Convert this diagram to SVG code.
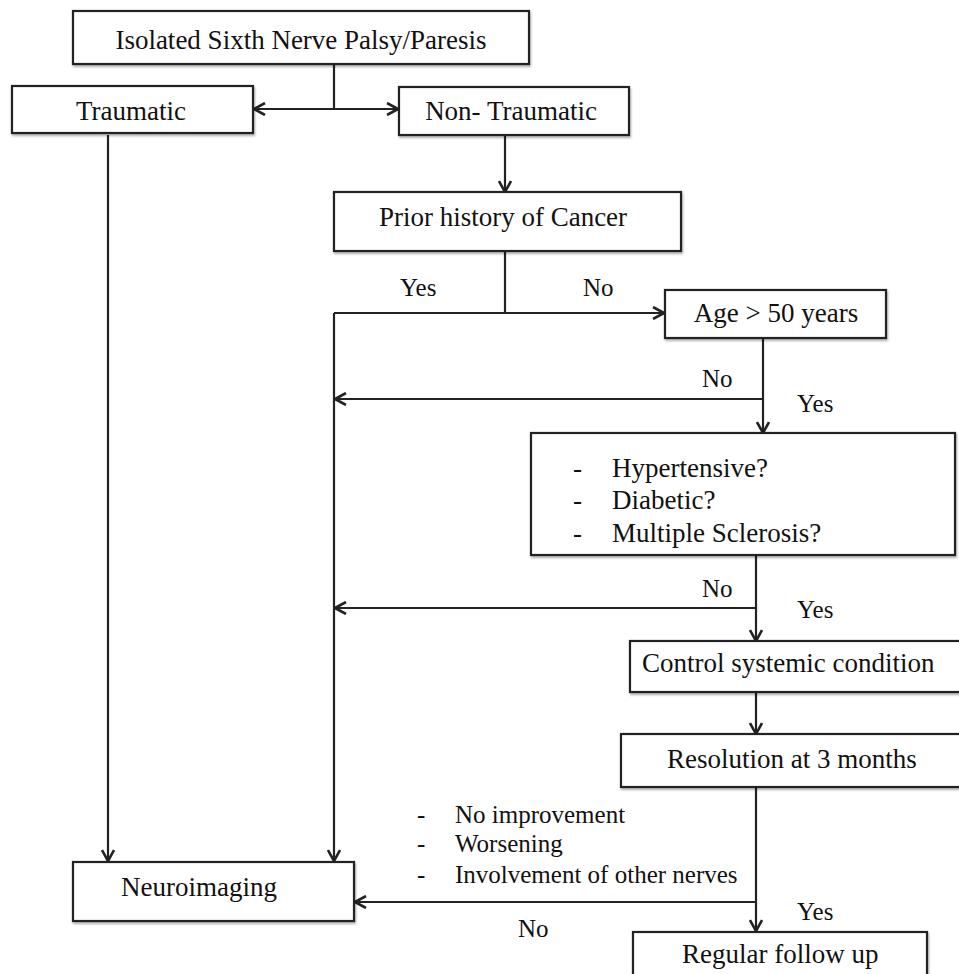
<svg xmlns="http://www.w3.org/2000/svg" width="959" height="974" viewBox="0 0 959 974">
<style>
  .box{fill:#fff;stroke:#222;stroke-width:2.2;filter:url(#sh)}
  .t{font-family:"Liberation Serif","Times New Roman",serif;font-size:27px;fill:#111}
  .m{text-anchor:middle}
  .lbl{font-family:"Liberation Serif","Times New Roman",serif;font-size:25px;fill:#111}
  .c{fill:none;stroke:#222;stroke-width:2.2}
  .a{marker-end:url(#ah)}
</style>
<defs>
  <filter id="sh" x="-5%" y="-10%" width="110%" height="130%">
    <feDropShadow dx="1" dy="2" stdDeviation="1.2" flood-color="#000" flood-opacity="0.3"/>
  </filter>
  <marker id="ah" viewBox="0 0 14 14" refX="12.5" refY="7" markerWidth="14" markerHeight="14" markerUnits="userSpaceOnUse" orient="auto-start-reverse">
    <path d="M1.5,1 L12.5,7 L1.5,13" fill="none" stroke="#222" stroke-width="2.6"/>
  </marker>
</defs>
<rect width="959" height="974" fill="#fff"/>

<g id="connectors">
  <path class="c" d="M334,64 V109"/>
  <path class="c" d="M254,109 H398" marker-start="url(#ah)" marker-end="url(#ah)"/>
  <path class="c a" d="M108,135 V861"/>
  <path class="c a" d="M505,135 V192"/>
  <path class="c" d="M505,251 V313"/>
  <path class="c a" d="M334,313 H664"/>
  <path class="c a" d="M334,313 V861"/>
  <path class="c a" d="M763,338 V433"/>
  <path class="c a" d="M763,399 H335"/>
  <path class="c a" d="M756,555 V641"/>
  <path class="c a" d="M756,608 H335"/>
  <path class="c a" d="M756,692 V734"/>
  <path class="c a" d="M756,787 V931"/>
  <path class="c a" d="M756,902 H355"/>
</g>

<g id="n-isolated">
  <rect class="box" x="73" y="11" width="456" height="53"/>
  <text class="t m" x="301" y="49">Isolated Sixth Nerve Palsy/Paresis</text>
</g>
<g id="n-traumatic">
  <rect class="box" x="12" y="86" width="241" height="47"/>
  <text class="t m" x="131" y="120">Traumatic</text>
</g>
<g id="n-nontraumatic">
  <rect class="box" x="399" y="87" width="230" height="48"/>
  <text class="t m" x="511" y="120">Non- Traumatic</text>
</g>
<g id="n-prior">
  <rect class="box" x="334" y="192" width="347" height="59"/>
  <text class="t m" x="503" y="226">Prior history of Cancer</text>
</g>
<g id="n-age">
  <rect class="box" x="665" y="290" width="221" height="48"/>
  <text class="t m" x="776" y="322">Age &gt; 50 years</text>
</g>
<g id="n-conditions">
  <rect class="box" x="531" y="433" width="424" height="122"/>
  <text class="t" x="573" y="477">-</text>
  <text class="t" x="612" y="477">Hypertensive?</text>
  <text class="t" x="573" y="509">-</text>
  <text class="t" x="612" y="509">Diabetic?</text>
  <text class="t" x="573" y="542">-</text>
  <text class="t" x="612" y="542">Multiple Sclerosis?</text>
</g>
<g id="n-control">
  <rect class="box" x="630" y="641" width="340" height="51"/>
  <text class="t" x="642" y="672">Control systemic condition</text>
</g>
<g id="n-resolution">
  <rect class="box" x="621" y="734" width="350" height="53"/>
  <text class="t" x="667" y="768">Resolution at 3 months</text>
</g>
<g id="n-neuroimaging">
  <rect class="box" x="73" y="862" width="281" height="59"/>
  <text class="t" x="121" y="896">Neuroimaging</text>
</g>
<g id="n-followup">
  <rect class="box" x="633" y="932" width="294" height="60"/>
  <text class="t" x="682" y="963">Regular follow up</text>
</g>

<g id="labels">
  <text class="lbl" x="400" y="296">Yes</text>
  <text class="lbl" x="583" y="296">No</text>
  <text class="lbl" x="702" y="387">No</text>
  <text class="lbl" x="797" y="412">Yes</text>
  <text class="lbl" x="702" y="597">No</text>
  <text class="lbl" x="797" y="618">Yes</text>
  <text class="lbl" x="417" y="823">-</text>
  <text class="lbl" x="455" y="823">No improvement</text>
  <text class="lbl" x="417" y="852">-</text>
  <text class="lbl" x="455" y="852">Worsening</text>
  <text class="lbl" x="417" y="883">-</text>
  <text class="lbl" x="455" y="883">Involvement of other nerves</text>
  <text class="lbl" x="797" y="920">Yes</text>
  <text class="lbl" x="518" y="937">No</text>
</g>
</svg>
